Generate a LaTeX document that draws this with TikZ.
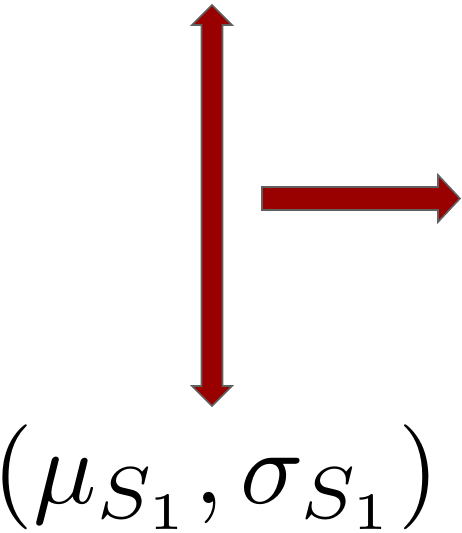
\documentclass[tikz,border=0pt]{standalone}
\usepackage{graphicx}
\definecolor{arrowred}{RGB}{153,0,0}
\definecolor{arrowedge}{RGB}{96,96,96}
\tikzset{blockarrow/.style={fill=arrowred,draw=arrowedge,line width=1.6pt,line join=miter}}
\begin{document}
\begin{tikzpicture}[x=1pt,y=-1pt]
\useasboundingbox (0,0) rectangle (461,533);
% vertical double arrow
\draw[blockarrow] (212,5) -- (232,25) -- (222.5,25) -- (222.5,386) -- (232,386) -- (212,406)
  -- (192,386) -- (201.5,386) -- (201.5,25) -- (192,25) -- cycle;
% horizontal arrow
\draw[blockarrow] (262,187) -- (438,187) -- (438,175) -- (460,198.5) -- (438,222) -- (438,210) -- (262,210) -- cycle;
% label
\node[anchor=base,inner sep=0pt] (lbl) at (216,503) {\scalebox{10.5}{$(\mu_{S_1},\sigma_{S_1})$}};
\end{tikzpicture}
\end{document}
